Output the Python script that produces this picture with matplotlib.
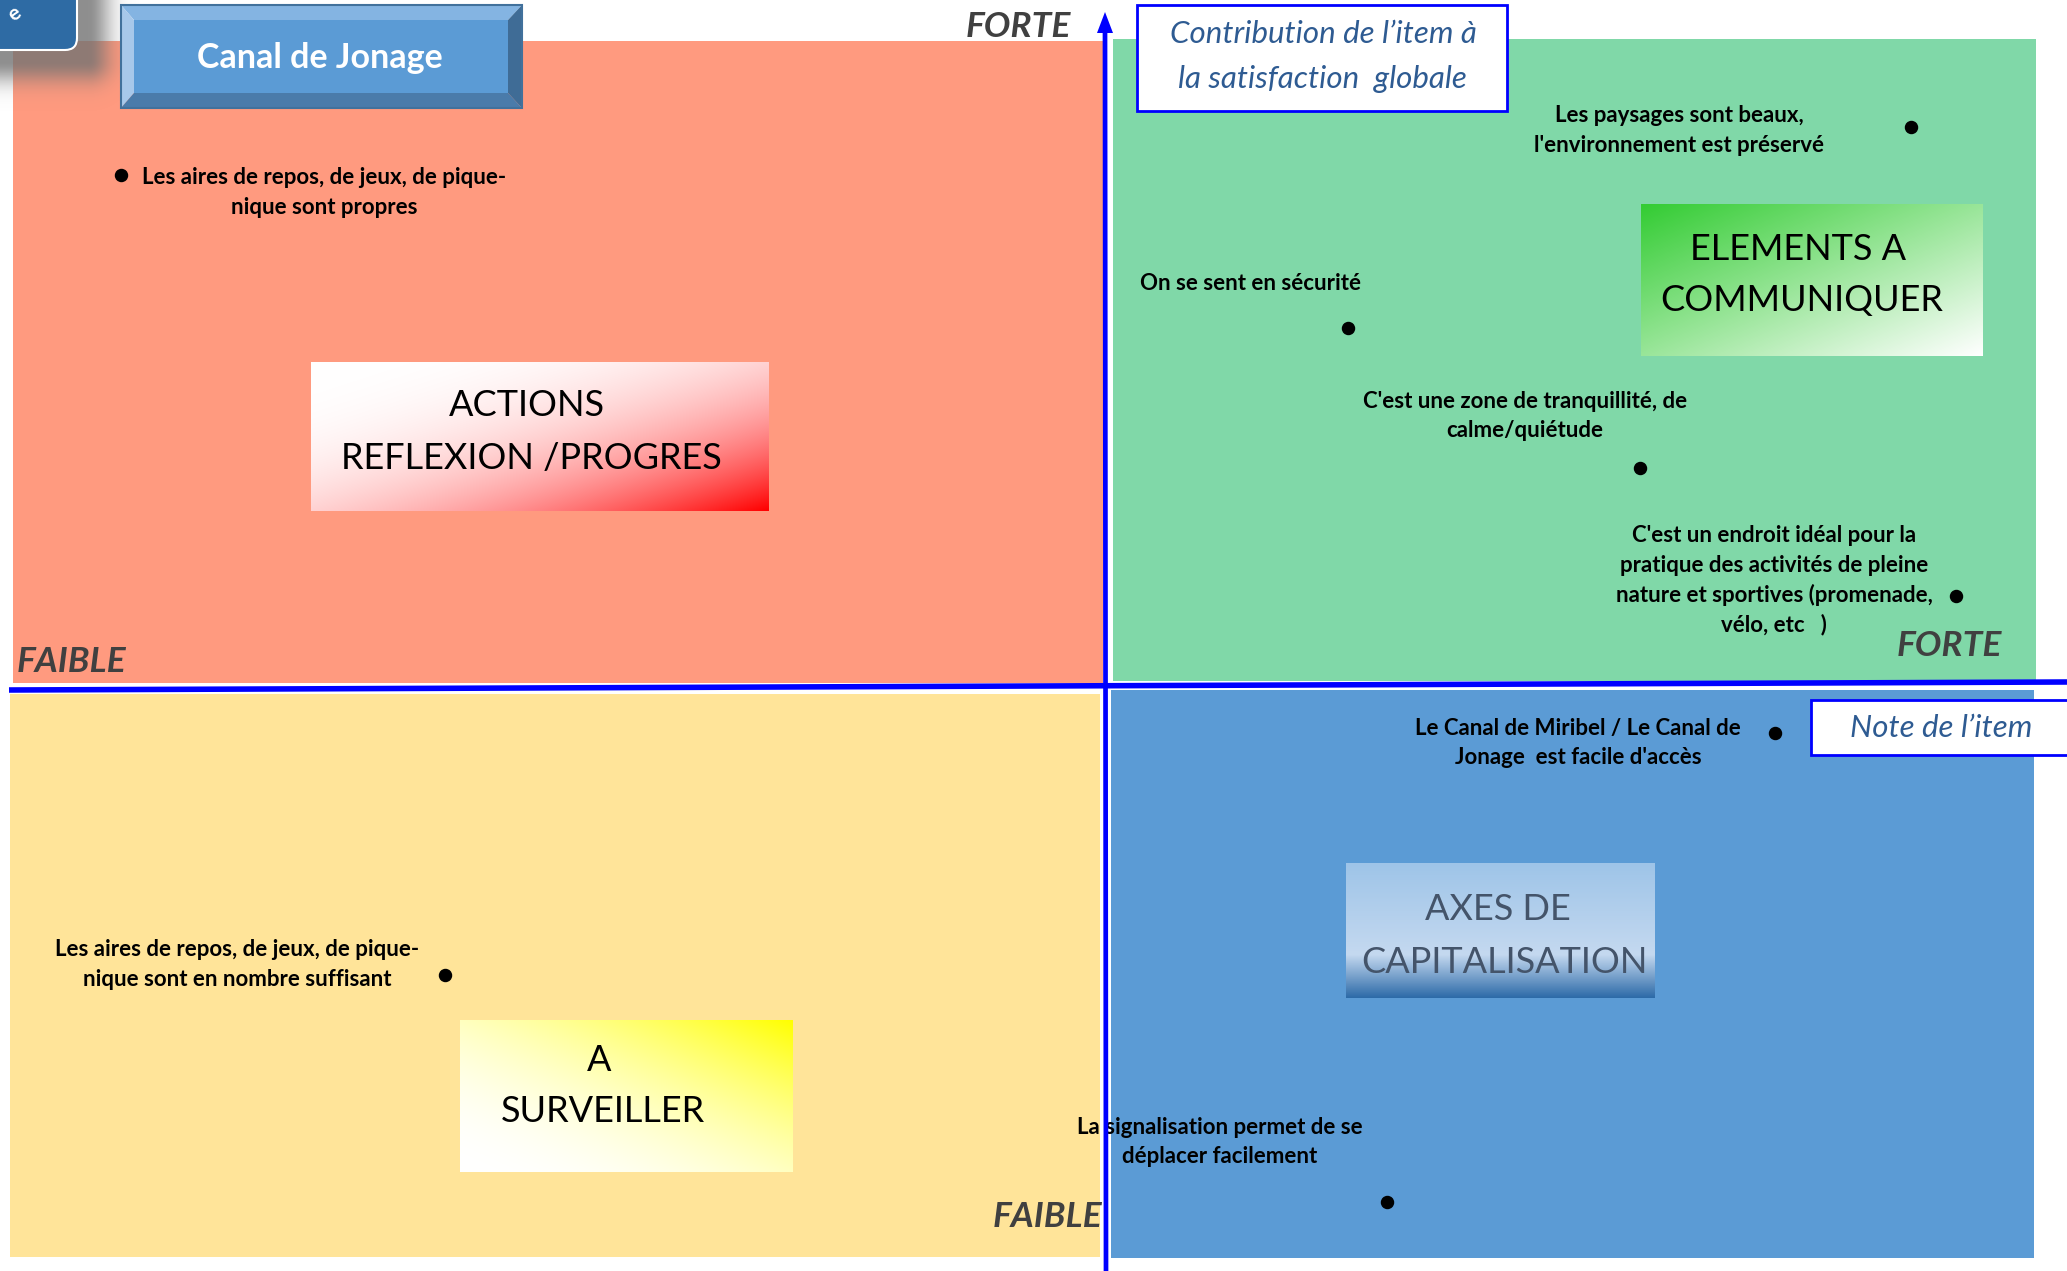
"""
Matrice d'importance / performance - Canal de Jonage
Quadrant chart: note de l'item (x) vs contribution a la satisfaction globale (y)
"""

import numpy as np
import matplotlib.pyplot as plt
from matplotlib.patches import Rectangle, Polygon, FancyBboxPatch


# ── 1. DATA ───────────────────────────────────────────────────
# x = note de l'item, y = contribution de l'item a la satisfaction globale
# (both centred on the crossing of the two axes)
labels = [
    "Les aires de repos, de jeux, de pique-\nnique sont propres",
    "Les paysages sont beaux,\nl'environnement est préservé",
    "On se sent en sécurité",
    "C'est une zone de tranquillité, de\ncalme/quiétude",
    "C'est un endroit idéal pour la\npratique des activités de pleine\nnature et sportives (promenade,\nvélo, etc   )",
    "Le Canal de Miribel / Le Canal de\nJonage  est facile d'accès",
    "Les aires de repos, de jeux, de pique-\nnique sont en nombre suffisant",
    "La signalisation permet de se\ndéplacer facilement",
]
note = [-9.84, 8.06, 2.43, 5.35, 8.51, 6.70, -6.60, 2.82]
contribution = [5.12, 5.60, 3.59, 2.19, 0.91, -0.46, -2.88, -5.15]

quadrant_titles = [
    ["ACTIONS", "REFLEXION /PROGRES"],
    ["ELEMENTS A", "COMMUNIQUER"],
    ["A", "SURVEILLER"],
    ["AXES DE", "CAPITALISATION"],
]
title = "Canal de Jonage"
y_title = ["Contribution de l\u2019item à", "la satisfaction  globale"]
x_title = "Note de l\u2019item"


# ── 2. LAYOUT HELPERS (pixel layout -> data units) ────────────
W, H = 2067, 1271
CX, CY = 1105, 687          # crossing of the axes in pixels


def X(p):
    return (p - CX) / 100.0


def Y(p):
    return (CY - p) / 100.0


# label anchors (centre x, first-line y) in pixels
label_pos = [(324, 178), (1679, 116), (1250, 283), (1525, 401),
             (1774, 536), (1578, 728), (237, 950), (1220, 1127)]
LINE_STEP = 29.5

FONT = "Lato"
TXT_GREY = "#404040"
AXIS_BLUE = "#0000FF"

fig = plt.figure(figsize=(W / 100, H / 100), dpi=100, facecolor="white")
ax = fig.add_axes([0, 0, 1, 1])
ax.set_xlim(X(0), X(W))
ax.set_ylim(Y(H), Y(0))
ax.axis("off")


def rect(x0, y0, x1, y1, **kw):
    ax.add_patch(Rectangle((X(x0), Y(y1)), (x1 - x0) / 100, (y1 - y0) / 100, **kw))


def grad_box(x0, y0, x1, y1, colour_fn, z=2):
    nx, ny = 200, 100
    u, v = np.meshgrid(np.linspace(0, 1, nx), np.linspace(0, 1, ny))
    img = colour_fn(u, v)
    ax.imshow(np.clip(img, 0, 1), extent=(X(x0), X(x1), Y(y1), Y(y0)),
              origin="upper", aspect="auto", interpolation="bilinear", zorder=z)


def mix(c0, c1, s):
    c0 = np.array(c0)[None, None, :]
    c1 = np.array(c1)[None, None, :]
    return c0 * (1 - s[..., None]) + c1 * s[..., None]


# ── 3. QUADRANTS ──────────────────────────────────────────────
rect(13, 41, 1103, 683, facecolor="#FF9A7F", edgecolor="none", zorder=1)
rect(1113, 39, 2036, 681, facecolor="#80D8A8", edgecolor="none", zorder=1)
rect(10, 694, 1100, 1257, facecolor="#FFE499", edgecolor="none", zorder=1)
rect(1111, 690, 2034, 1258, facecolor="#5B9BD5", edgecolor="none", zorder=1)

# quadrant title boxes with gradients
red = (1.0, 0.0, 0.0)
white = (1.0, 1.0, 1.0)
grad_box(311, 362, 769, 511, lambda u, v: mix(white, red, ((u + v) / 2) ** 2.5))
grad_box(1641, 204, 1983, 356, lambda u, v: mix((0.2, 0.8, 0.2), white, (u + v) / 2))
grad_box(460, 1020, 793, 1172,
         lambda u, v: mix((1.0, 1.0, 0.0), white, 1 - ((1 - ((1 - u) + v) / 2) ** 2)))


def blue_grad(u, v):
    stops = [0.0, 0.68, 1.0]
    r = np.interp(v, stops, [0.62, 0.77, 0.18])
    g = np.interp(v, stops, [0.77, 0.85, 0.42])
    b = np.interp(v, stops, [0.91, 0.94, 0.66])
    return np.stack([r, g, b], axis=-1)


grad_box(1346, 863, 1655, 998, blue_grad)

qt_style = dict(ha="center", va="baseline", fontsize=26, family=FONT, zorder=3)
ax.text(X(527), Y(416), quadrant_titles[0][0], color="black", **qt_style)
ax.text(X(531), Y(469), quadrant_titles[0][1], color="black", **qt_style)
ax.text(X(1798), Y(260), quadrant_titles[1][0], color="black", **qt_style)
ax.text(X(1802), Y(311), quadrant_titles[1][1], color="black", **qt_style)
ax.text(X(599), Y(1071), quadrant_titles[2][0], color="black", **qt_style)
ax.text(X(603), Y(1122), quadrant_titles[2][1], color="black", **qt_style)
ax.text(X(1498), Y(920), quadrant_titles[3][0], color="#44546A", **qt_style)
ax.text(X(1504), Y(973), quadrant_titles[3][1], color="#44546A", **qt_style)


# ── 4. CORNER SHAPE + TITLE BOX ───────────────────────────────
sx, sy = np.meshgrid(np.arange(0, 180), np.arange(0, 150))
dx = np.maximum(sx - 88, 0)
dy = np.maximum(sy - 60, 0)
d = np.hypot(dx, dy)
shadow = np.zeros((150, 180, 4))
shadow[..., :3] = 0.45
shadow[..., 3] = 0.8 * np.exp(-(d / 22.0) ** 2)
ax.imshow(shadow, extent=(X(0), X(180), Y(150), Y(0)), origin="upper",
          aspect="auto", interpolation="bilinear", zorder=2.5)
ax.add_patch(FancyBboxPatch((X(-60), Y(38)), 0.77 - 0.12 + 0.60, 0.38 + 0.60,
                            boxstyle="round,pad=0.12", facecolor="#2E6BA4",
                            edgecolor="white", linewidth=1.5, zorder=2.6))
ax.text(X(14), Y(14), "e", color="white", fontsize=15, family=FONT, fontweight="bold",
        rotation=35, ha="center", va="center", zorder=2.7)

# bevelled "Canal de Jonage" box
o = (121, 5, 522, 108)      # outer
i = (134, 20, 508, 93)      # inner face
bevels = [
    ([(o[0], o[1]), (o[2], o[1]), (i[2], i[1]), (i[0], i[1])], "#84B4E2"),  # top
    ([(o[0], o[1]), (i[0], i[1]), (i[0], i[3]), (o[0], o[3])], "#A7C8EA"),  # left
    ([(o[2], o[1]), (o[2], o[3]), (i[2], i[3]), (i[2], i[1])], "#3F6C96"),  # right
    ([(o[0], o[3]), (i[0], i[3]), (i[2], i[3]), (o[2], o[3])], "#4A7BAA"),  # bottom
]
for pts, col in bevels:
    ax.add_patch(Polygon([(X(a), Y(b)) for a, b in pts], closed=True,
                         facecolor=col, edgecolor="none", zorder=3))
rect(i[0], i[1], i[2], i[3], facecolor="#5B9BD5", edgecolor="none", zorder=3)
rect(o[0], o[1], o[2], o[3], facecolor="none", edgecolor="#41719C", linewidth=1.5, zorder=3.1)
ax.text(X(320), Y(68), title, color="white", fontsize=24.5, fontweight="bold",
        family=FONT, ha="center", va="baseline", zorder=3.2)


# ── 5. AXIS END LABELS ────────────────────────────────────────
end_style = dict(color=TXT_GREY, fontsize=25.5, fontweight="bold", style="italic",
                 family=FONT, va="baseline", zorder=3)
ax.text(X(1018), Y(37), "FORTE", ha="center", **end_style)
ax.text(X(17), Y(672), "FAIBLE", ha="left", **end_style)
ax.text(X(2002), Y(656), "FORTE", ha="right", **end_style)
ax.text(X(1102), Y(1227), "FAIBLE", ha="right", **end_style)


# ── 6. ITEMS ──────────────────────────────────────────────────
ax.scatter(note, contribution, s=75, color="black", zorder=4)

for lab, (cx, cy) in zip(labels, label_pos):
    for j, line in enumerate(lab.split("\n")):
        ax.text(X(cx), Y(cy + j * LINE_STEP), line, ha="center", va="center",
                fontsize=16, fontweight="bold", family=FONT, color="black", zorder=3)


# ── 7. AXES (blue lines) ──────────────────────────────────────
ax.plot([X(9), X(W)], [Y(690), Y(682)], color=AXIS_BLUE, linewidth=4.0,
        solid_capstyle="butt", zorder=5)
ax.plot([X(1106), X(1105)], [Y(H), Y(30)], color=AXIS_BLUE, linewidth=3.4,
        solid_capstyle="butt", zorder=5)
ax.add_patch(Polygon([(X(1105), Y(12)), (X(1097), Y(33)), (X(1113), Y(33))],
                     closed=True, facecolor=AXIS_BLUE, edgecolor="none", zorder=5))


# ── 8. AXIS TITLE BOXES ───────────────────────────────────────
rect(1137, 5, 1507, 111, facecolor="white", edgecolor=AXIS_BLUE, linewidth=2.0, zorder=6)
ax.text(X(1323), Y(43), y_title[0], ha="center", va="baseline", fontsize=22.5,
        style="italic", family=FONT, color="#2E5B92", zorder=6.1)
ax.text(X(1322), Y(88), y_title[1], ha="center", va="baseline", fontsize=22.5,
        style="italic", family=FONT, color="#2E5B92", zorder=6.1)

rect(1811, 700, 2090, 755, facecolor="white", edgecolor=AXIS_BLUE, linewidth=2.0, zorder=6)
ax.text(X(1941), Y(737), x_title, ha="center", va="baseline", fontsize=22.5,
        style="italic", family=FONT, color="#2E5B92", zorder=6.1)

fig.savefig("out.png", dpi=100, facecolor="white")
plt.close(fig)
